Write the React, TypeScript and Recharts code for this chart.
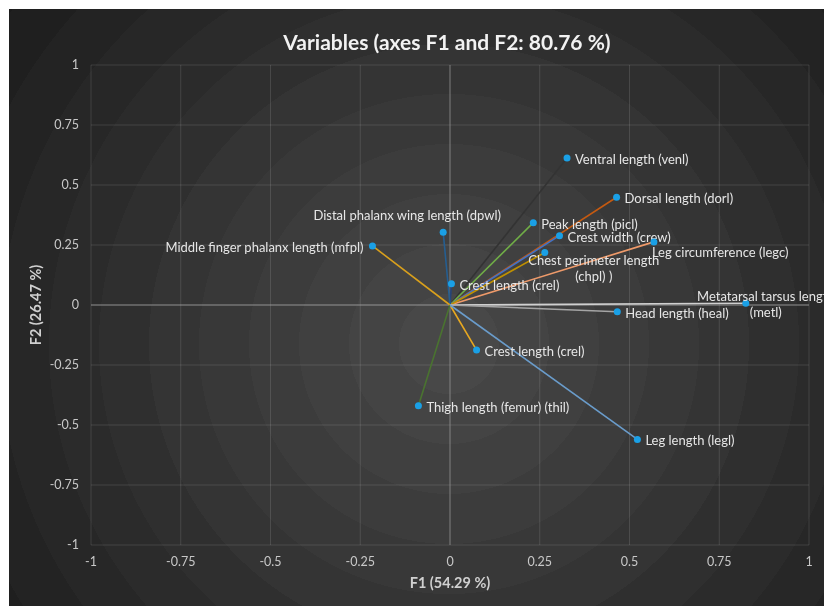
import {
  ScatterChart,
  Scatter,
  XAxis,
  YAxis,
  CartesianGrid,
  ReferenceLine,
} from "recharts";

// variables of the correlation circle (F1 x F2)
const variableIds = [
  "venl", "dorl", "picl", "crew", "legc", "chpl", "crel1",
  "dpwl", "mfpl", "metl", "heal", "crel2", "thil", "legl",
];
const variableLabels = [
  "Ventral length (venl)",
  "Dorsal length (dorl)",
  "Peak length (picl)",
  "Crest width (crew)",
  "Leg circumference (legc)",
  "Chest perimeter length\n(chpl) )",
  "Crest length (crel)",
  "Distal phalanx wing length (dpwl)",
  "Middle finger phalanx length (mfpl)",
  "Metatarsal tarsus length\n(metl)",
  "Head length (heal)",
  "Crest length (crel)",
  "Thigh length (femur) (thil)",
  "Leg length (legl)",
];
const f1Values = [0.326, 0.464, 0.232, 0.305, 0.568, 0.264, 0.004, -0.019, -0.216, 0.824, 0.466, 0.074, -0.088, 0.522];
const f2Values = [0.612, 0.449, 0.343, 0.289, 0.263, 0.219, 0.089, 0.303, 0.246, 0.007, -0.028, -0.188, -0.42, -0.56];

const axisTicks = [-1, -0.75, -0.5, -0.25, 0, 0.25, 0.5, 0.75, 1];

// line colours, same order as the variables
const vectorColors = [
  "#333333", "#c55a11", "#70ad47", "#4472c4", "#ee9a6a", "#bf9000", "#264478",
  "#255e91", "#d9a01c", "#d0d0d0", "#a5a5a5", "#e8a820", "#4a7330", "#6a9ccb",
];

// label placement relative to the point
const labelPlacement: Record<string, { anchor: string; dx: number; dy: number }> = {
  dpwl: { anchor: "middle", dx: -36, dy: -17 },
  mfpl: { anchor: "end", dx: -9, dy: 1 },
  chpl: { anchor: "middle", dx: 49, dy: 8 },
  legc: { anchor: "start", dx: -2, dy: 10 },
  metl: { anchor: "middle", dx: 20, dy: -7 },
};

const points = variableIds.map((id, i) => ({
  id,
  label: variableLabels[i],
  x: f1Values[i],
  y: f2Values[i],
}));

const FONT = "Lato, 'Open Sans', sans-serif";

// stepped radial background
const bandStops = (() => {
  const parts: string[] = [];
  const n = 12;
  const step = 50;
  for (let i = 0; i < n; i++) {
    const t = i / (n - 1);
    const c = Math.round(0x48 - t * (0x48 - 0x1b));
    const hex = c.toString(16).padStart(2, "0");
    const col = `#${hex}${hex}${hex}`;
    parts.push(`${col} ${i * step}px`, `${col} ${(i + 1) * step}px`);
  }
  return parts.join(", ");
})();

const EmptyShape = () => <g />;

const PointShape = (props: any) => {
  const { cx, cy, payload } = props;
  const place = labelPlacement[payload.id] || { anchor: "start", dx: 8, dy: 1 };
  const lines = String(payload.label).split("\n");
  return (
    <g>
      <circle cx={cx} cy={cy} r={3.5} fill="#1aa0e6" />
      {lines.map((line, k) => (
        <text
          key={k}
          x={cx + place.dx}
          y={cy + place.dy + k * 16}
          textAnchor={place.anchor as any}
          dominantBaseline="central"
          fill="#e6e6e6"
          fontSize={13}
          fontFamily={FONT}
        >
          {line}
        </text>
      ))}
    </g>
  );
};

export default function App() {
  return (
    <div
      style={{
        position: "fixed",
        left: 9,
        top: 9,
        width: 815,
        height: 597,
        overflow: "hidden",
        background: `radial-gradient(circle at 440px 335px, ${bandStops})`,
      }}
    >
      <ScatterChart width={815} height={597} margin={{ top: 56, right: 15, bottom: 31, left: 22 }}>
        <CartesianGrid stroke="#ffffff" strokeOpacity={0.12} />
        <XAxis
          type="number"
          dataKey="x"
          domain={[-1, 1]}
          ticks={axisTicks}
          axisLine={false}
          tickLine={false}
          tickMargin={6}
          tick={{ fill: "#c8c8c8", fontSize: 12.5, fontFamily: FONT }}
        />
        <YAxis
          type="number"
          dataKey="y"
          domain={[-1, 1]}
          ticks={axisTicks}
          width={60}
          axisLine={false}
          tickLine={false}
          tickMargin={6}
          tick={{ fill: "#c8c8c8", fontSize: 12.5, fontFamily: FONT }}
        />
        <ReferenceLine x={0} stroke="#8a8a8a" strokeOpacity={0.7} />
        <ReferenceLine y={0} stroke="#9a9a9a" strokeOpacity={0.8} />
        {points.map((p, i) => (
          <Scatter
            key={p.id}
            data={[{ x: 0, y: 0 }, { x: p.x, y: p.y }]}
            fill={vectorColors[i]}
            line={{ stroke: vectorColors[i], strokeWidth: 1.6 }}
            shape={EmptyShape}
            isAnimationActive={false}
          />
        ))}
        <Scatter data={points} shape={PointShape} isAnimationActive={false} />
        <text
          x={438}
          y={32}
          textAnchor="middle"
          dominantBaseline="central"
          fill="#f2f2f2"
          fontSize={21}
          fontWeight={700}
          fontFamily={FONT}
        >
          Variables (axes F1 and F2: 80.76 %)
        </text>
        <text
          x={441}
          y={573}
          textAnchor="middle"
          dominantBaseline="central"
          fill="#d0d0d0"
          fontSize={14.5}
          fontWeight={700}
          fontFamily={FONT}
        >
          F1 (54.29 %)
        </text>
        <text
          x={26}
          y={296}
          transform="rotate(-90 26 296)"
          textAnchor="middle"
          dominantBaseline="central"
          fill="#d0d0d0"
          fontSize={14.5}
          fontWeight={700}
          fontFamily={FONT}
        >
          F2 (26.47 %)
        </text>
      </ScatterChart>
    </div>
  );
}
